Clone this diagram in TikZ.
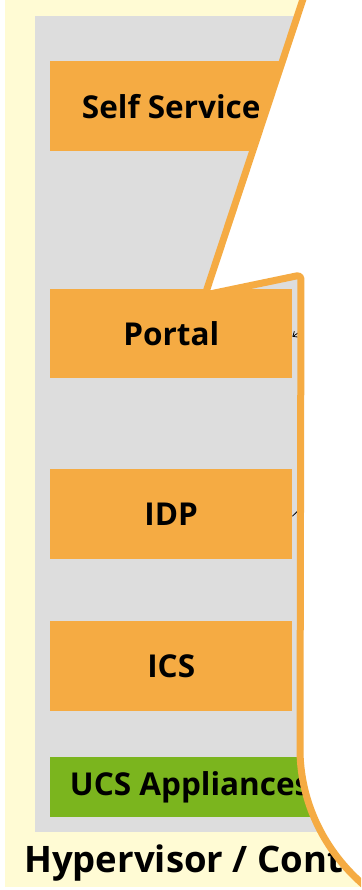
\documentclass[tikz,border=0pt]{standalone}
\usepackage{fontspec}
\setmainfont{Open Sans}
\usetikzlibrary{arrows.meta}
\definecolor{bgyellow}{RGB}{255,251,212}
\definecolor{panelgrey}{RGB}{221,221,221}
\definecolor{boxorange}{RGB}{245,171,67}
\definecolor{boxgreen}{RGB}{123,181,30}
\begin{document}
\begin{tikzpicture}[x=1pt,y=-1pt,
  label font/.style={font=\bfseries\fontsize{31.5}{36}\selectfont},
  compbox/.style={label font, fill=boxorange, draw=none, inner sep=0pt,
    minimum width=242pt, minimum height=90pt, anchor=north west},
  applbox/.style={label font, fill=boxgreen, draw=none, inner sep=0pt,
    minimum width=280pt, minimum height=60pt, anchor=north west},
  link/.style={black, line width=0.8pt},
  callout/.style={draw=boxorange, line width=7pt, line join=round}]
  \useasboundingbox (0,0) rectangle (361,890);
  \clip (0,0) rectangle (361,890);
  % host and component stack
  \fill[bgyellow] (5,0) rectangle (361,887);
  \fill[panelgrey] (35,16) rectangle (345,832);
  \node[compbox] (self) at (50,61) {Self Service};
  \node[compbox, minimum height=89pt] (portal) at (50,289) {Portal};
  \node[compbox] (idp) at (50,469) {IDP};
  \node[compbox] (ics) at (50,621) {ICS};
  \node[applbox] (ucs) at (50,757) {UCS Appliances};
  \node[font=\bfseries\fontsize{36.5}{42}\selectfont, anchor=base west, inner sep=0pt] (hyp) at (24,872) {Hypervisor / Cont};
  % links entering from the right
  \coordinate (pin) at (330,312);
  \coordinate (iin) at (330,480);
  \draw[link, -{Straight Barb[length=4pt,width=7pt]}] (pin) -- ([yshift=-3pt]portal.east);
  \draw[link] (iin) -- ([yshift=-2pt]idp.east);
  % callout bubble over the right side
  \fill[white] (306,-10) -- (205,295) -- (301,275) -- (300,745)
     .. controls (300,847) and (383,930) .. (485,930) -- (500,-10) -- cycle;
  \draw[callout] (306,-10) -- (205,295) [rounded corners=4pt] -- (301,275) -- (300,745) [sharp corners]
     .. controls (300,847) and (383,930) .. (485,930);
\end{tikzpicture}
\end{document}
